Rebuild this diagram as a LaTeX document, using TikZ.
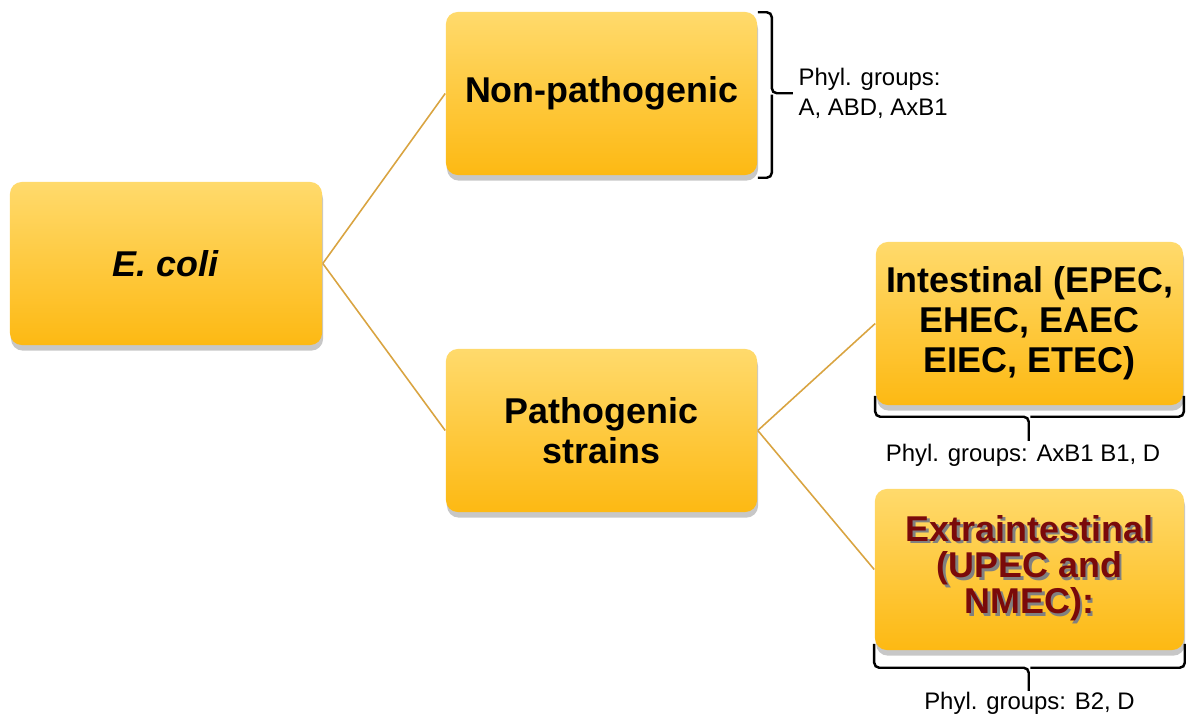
\documentclass[tikz,border=0pt]{standalone}
\usepackage{fontspec}
\setmainfont{Liberation Sans}
\usetikzlibrary{shadows}
\definecolor{BoxTop}{HTML}{FFDA6C}
\definecolor{BoxBottom}{HTML}{FDB913}
\definecolor{LinkGold}{HTML}{D9A441}
\definecolor{TextInk}{HTML}{000000}
\definecolor{DeepRed}{HTML}{7A0A0A}
\newcommand{\shadowed}[1]{\rlap{\kern0.7pt\raisebox{-0.7pt}{\textcolor{black!50}{#1}}}\textcolor{DeepRed}{#1}}
\begin{document}
\begin{tikzpicture}[x=0.01cm,y=-0.01cm,every node/.style={text=TextInk},box/.style={rectangle,rounded corners=0.12cm,top color=BoxTop,bottom color=BoxBottom,draw=none,minimum height=1.63cm,inner sep=0pt,align=center,font=\bfseries\fontsize{10.2}{11.4}\selectfont,drop shadow={shadow xshift=0.3pt,shadow yshift=-1.6pt,opacity=0.22,fill=black}},link/.style={draw=LinkGold,line width=0.45pt},brace/.style={draw=TextInk,line width=0.7pt,rounded corners=0.05cm},note/.style={font=\fontsize{6.8}{8.5}\selectfont,inner sep=0pt}]
\useasboundingbox (0,0) rectangle (1186,719);
\node[box,minimum width=3.12cm] (ecoli) at (166,263.5){\textit{E. coli}};
\node[box,minimum width=3.11cm] (nonpath) at (601.5,93.5){Non-pathogenic};
\node[box,minimum width=3.11cm] (path) at (601.5,430.5){Pathogenic\\strains};
\node[box,minimum width=3.07cm] (intest) at (1029.5,323.5){Intestinal (EPEC,\\EHEC, EAEC\\EIEC, ETEC)};
\node[box,minimum width=3.09cm,minimum height=1.61cm,font=\bfseries\fontsize{10.2}{10.3}\selectfont] (extra) at (1029.5,569.5){\shadowed{Extraintestinal}\\\shadowed{(UPEC and}\\\shadowed{NMEC):}};
\draw[link] (ecoli.east) -- (nonpath.west);
\draw[link] (ecoli.east) -- (path.west);
\draw[link] (path.east) -- (intest.west);
\draw[link] (path.east) -- (extra.west);
\draw[brace] (nonpath.north east) ++(0,1) -| ++(14,81) -- ++(21,0);
\draw[brace] (nonpath.south east) ++(0,2) -| ++(14,-83);
\draw[brace] (intest.south west) ++(0,-10) |- ++(153.5,21) -- ++(0,24);
\draw[brace] (intest.south east) ++(0,-10) |- ++(-153.5,21);
\draw[brace] (extra.south west) ++(0,-7) |- ++(154.5,24) -- ++(0,23);
\draw[brace] (extra.south east) ++(0,-7) |- ++(-154.5,24);
\node[note,anchor=west,align=left] (phylnon) at (798,93.5){Phyl. groups:\\A, ABD, AxB1};
\node[note] (phylint) at (1023,455){Phyl. groups: AxB1 B1, D};
\node[note] (phylext) at (1029.5,703){Phyl. groups: B2, D};
\end{tikzpicture}
\end{document}
